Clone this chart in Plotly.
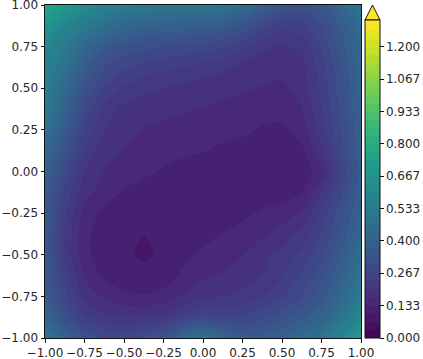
import plotly.graph_objects as go

x_vals = [-1, -.875, -.75, -.625, -.5, -.375, -.25, -.125, 0, .125, .25, .375, .5, .625, .75, .875, 1]
y_vals = [-1, -.875, -.75, -.625, -.5, -.375, -.25, -.125, 0, .125, .25, .375, .5, .625, .75, .875, 1]
z_m1000 = [.52, .40, .33, .30, .29, .31, .35, .43, .50, .42, .38, .38, .40, .44, .50, .60, .70]
z_m0875 = [.43, .32, .24, .21, .20, .20, .21, .25, .28, .27, .27, .29, .32, .36, .41, .50, .60]
z_m0750 = [.38, .28, .19, .16, .14, .135, .145, .17, .19, .20, .21, .23, .26, .30, .35, .44, .54]
z_m0625 = [.36, .25, .16, .125, .115, .11, .115, .14, .16, .17, .18, .20, .23, .27, .32, .40, .50]
z_m0500 = [.36, .23, .14, .12, .105, .095, .105, .125, .14, .15, .165, .19, .21, .24, .29, .37, .47]
z_m0375 = [.36, .23, .14, .12, .11, .10, .105, .105, .12, .135, .145, .16, .18, .21, .27, .34, .44]
z_m0250 = [.36, .24, .15, .125, .115, .11, .105, .105, .105, .11, .125, .14, .15, .17, .24, .32, .41]
z_m0125 = [.38, .26, .18, .15, .13, .12, .115, .11, .11, .105, .105, .11, .115, .13, .20, .29, .39]
z_p0000 = [.41, .29, .20, .165, .15, .14, .13, .12, .115, .11, .105, .105, .105, .115, .15, .27, .38]
z_p0125 = [.45, .33, .23, .18, .165, .15, .145, .14, .135, .125, .12, .115, .115, .125, .19, .29, .39]
z_p0250 = [.49, .37, .26, .20, .175, .165, .16, .155, .15, .145, .14, .13, .125, .15, .22, .30, .40]
z_p0375 = [.53, .41, .29, .22, .19, .18, .175, .17, .165, .16, .155, .145, .145, .165, .23, .31, .41]
z_p0500 = [.56, .44, .33, .26, .23, .21, .20, .19, .18, .175, .17, .165, .16, .18, .24, .32, .42]
z_p0625 = [.58, .49, .38, .30, .27, .25, .24, .23, .22, .21, .19, .175, .175, .19, .25, .33, .43]
z_p0750 = [.61, .53, .44, .37, .33, .31, .30, .29, .28, .27, .24, .21, .195, .21, .27, .35, .44]
z_p0875 = [.68, .60, .53, .47, .43, .41, .40, .39, .38, .37, .33, .28, .24, .25, .30, .37, .46]
z_p1000 = [.78, .70, .63, .58, .55, .53, .52, .52, .52, .50, .46, .40, .34, .32, .36, .43, .52]
z_rows = [z_m1000, z_m0875, z_m0750, z_m0625, z_m0500, z_m0375, z_m0250, z_m0125, z_p0000,
          z_p0125, z_p0250, z_p0375, z_p0500, z_p0625, z_p0750, z_p0875, z_p1000]
axis_ticks = [-1.0, -0.75, -0.5, -0.25, 0.0, 0.25, 0.5, 0.75, 1.0]
cbar_ticks = [0.0, 0.1333, 0.2667, 0.4, 0.5333, 0.6667, 0.8, 0.9333, 1.0667, 1.2]
cbar_labels = ["0.000", "0.133", "0.267", "0.400", "0.533", "0.667", "0.800", "0.933", "1.067", "1.200"]
z_top = 1.31

W, H = 423, 359
L, R, T, B = 45, 62, 5, 21
font = dict(family="DejaVu Sans", size=12, color="#262626")

fig = go.Figure(go.Contour(
    x=x_vals, y=y_vals, z=z_rows,
    colorscale="Viridis", zmin=0, zmax=z_top,
    contours=dict(start=0, end=z_top, size=0.0333, coloring="fill"),
    line=dict(width=0, smoothing=0.5),
    colorbar=dict(
        x=(365 - L) / (W - L - R), xanchor="left", xpad=0, thickness=15,
        y=0, yanchor="bottom", ypad=0, len=(338 - 20) / (H - T - B), lenmode="fraction",
        tickvals=cbar_ticks, ticktext=cbar_labels, ticks="outside", ticklen=3.5,
        tickcolor="#111", tickwidth=1, outlinecolor="#111", outlinewidth=1,
        tickfont=font,
    ),
))
axis = dict(range=[-1, 1], tickvals=axis_ticks, tickformat=".2f", ticks="outside", ticklen=3.5,
            tickwidth=1, tickcolor="#111", showgrid=False, zeroline=False, showline=True,
            linecolor="#111", linewidth=1, mirror=True, tickfont=font, ticklabeloverflow="allow")
fig.update_layout(
    width=W, height=H, margin=dict(l=L, r=R, t=T, b=B, autoexpand=False), autosize=False,
    paper_bgcolor="white", plot_bgcolor="white", xaxis=axis, yaxis=axis,
    shapes=[dict(type="path", xref="paper", yref="paper",
                 path="M %f,%f L %f,%f L %f,%f Z" % (
                     (365 - L) / (W - L - R), (338 - 20) / (H - T - B),
                     (372.5 - L) / (W - L - R), 1.0,
                     (380 - L) / (W - L - R), (338 - 20) / (H - T - B)),
                 fillcolor="#fde725", line=dict(color="#111", width=1))],
)
fig.write_html("out.html", post_script="document.body.style.margin='0';", config=dict(displayModeBar=False))
